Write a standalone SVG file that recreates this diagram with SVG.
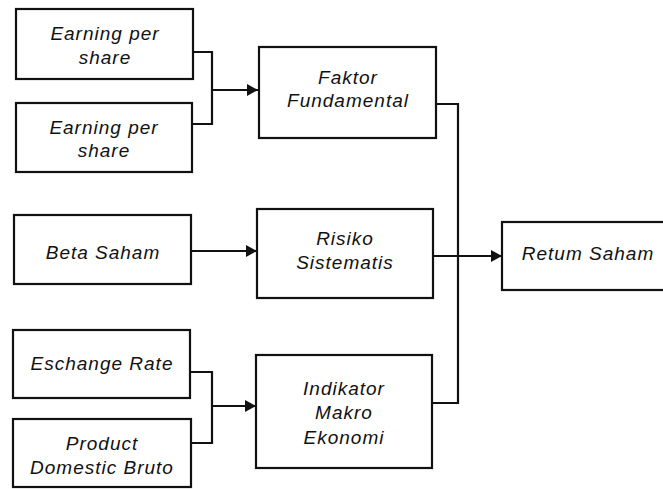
<svg xmlns="http://www.w3.org/2000/svg" width="663" height="489" viewBox="0 0 663 489">
<defs>
<marker id="arr" markerWidth="12" markerHeight="12" refX="11" refY="6" orient="auto" markerUnits="userSpaceOnUse">
<path d="M0,0 L11,6 L0,12 Z" fill="#111"/>
</marker>
<style>
.box{fill:#fff;stroke:#111;stroke-width:2.2}
.t{font-family:"Liberation Sans",Arial,sans-serif;font-style:italic;font-size:19px;letter-spacing:1px;fill:#111;text-anchor:middle}
.c{fill:none;stroke:#111;stroke-width:2.2}
</style>
</defs>
<rect width="663" height="489" fill="#fff"/>
<g id="connectors">
<path class="c" d="M193,52 H212 V124 H192"/>
<path class="c" d="M212,90 H258" marker-end="url(#arr)"/>
<path class="c" d="M191,251 H257" marker-end="url(#arr)"/>
<path class="c" d="M190,372 H212 V443 H190"/>
<path class="c" d="M212,406 H256" marker-end="url(#arr)"/>
<path class="c" d="M436,104 H458 V403 H432"/>
<path class="c" d="M433,256 H502" marker-end="url(#arr)"/>
</g>
<g id="eps1"><rect class="box" x="16" y="9" width="177" height="70"/><text class="t" x="105" y="40">Earning per</text><text class="t" x="105" y="64">share</text></g>
<g id="eps2"><rect class="box" x="16" y="103" width="176" height="69"/><text class="t" x="104" y="134">Earning per</text><text class="t" x="104" y="157">share</text></g>
<g id="faktor"><rect class="box" x="259" y="47" width="177" height="91"/><text class="t" x="348" y="84">Faktor</text><text class="t" x="348" y="107">Fundamental</text></g>
<g id="beta"><rect class="box" x="14" y="215" width="177" height="69"/><text class="t" x="103" y="259">Beta Saham</text></g>
<g id="risiko"><rect class="box" x="257" y="209" width="176" height="89"/><text class="t" x="345" y="245">Risiko</text><text class="t" x="345" y="269">Sistematis</text></g>
<g id="return"><rect class="box" x="502" y="222" width="170" height="68"/><text class="t" x="588" y="260">Retum Saham</text></g>
<g id="exchange"><rect class="box" x="13" y="330" width="177" height="68"/><text class="t" x="102" y="370">Eschange Rate</text></g>
<g id="pdb"><rect class="box" x="13" y="419" width="178" height="68"/><text class="t" x="102" y="450">Product</text><text class="t" x="102" y="474">Domestic Bruto</text></g>
<g id="makro"><rect class="box" x="256" y="355" width="176" height="113"/><text class="t" x="344" y="395">Indikator</text><text class="t" x="344" y="419">Makro</text><text class="t" x="344" y="444">Ekonomi</text></g>
</svg>
